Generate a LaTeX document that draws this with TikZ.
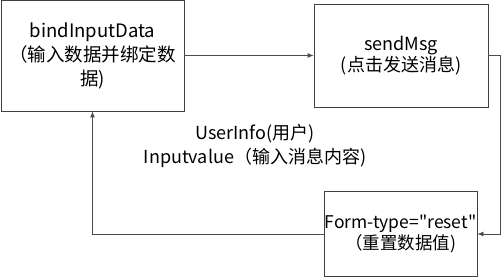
\documentclass[tikz,border=0pt]{standalone}
\usepackage{fontspec}
\newfontfamily\uifont{Noto Sans CJK SC}
\usetikzlibrary{arrows.meta}

\begin{document}
\begin{tikzpicture}[
	x=1pt, y=1pt,
	b/.style = {rectangle, draw=black!75, line width=0.8pt, align=center, inner sep=0pt, font=\uifont\fontsize{18}{21}\selectfont},
	r/.style = {-{Latex[length=6pt, width=5pt]}, draw=black!70, line width=0.8pt}
	]
	\useasboundingbox (0, 0) rectangle (502, 278);
	
	% === === === Nodes === === ===
	\node[b, minimum width=183, minimum height=111, font=\uifont\fontsize{18.5}{24}\selectfont]	(bind)	at	(92.5, 222.5)	{bindInputData\\（输入数据并绑定数\\据)};
	\node[b, minimum width=174, minimum height=103]	(send)	at	(401, 222.5)	{sendMsg\\(点击发送消息)};
	\node[b, minimum width=153, minimum height=85, font=\uifont\fontsize{17.5}{21}\selectfont]	(reset)	at	(400.5, 44)	{Form-type="reset"\\（重置数据值)};
	
	\node[align=center, inner sep=0pt, font=\uifont\fontsize{18}{24}\selectfont]	(info)	at	(255, 132)	{UserInfo(用户)\\Inputvalue（输入消息内容)};
	
	\coordinate (turn) at (500, 222.5);
	
	% === === === Lines === === ===
	\draw[r] (bind.east) to (send.west);
	\draw[r] (send.east) -- (turn) |- (reset.east);
	\draw[r] (reset.west) -| (bind.south);
	
\end{tikzpicture}
\end{document}
